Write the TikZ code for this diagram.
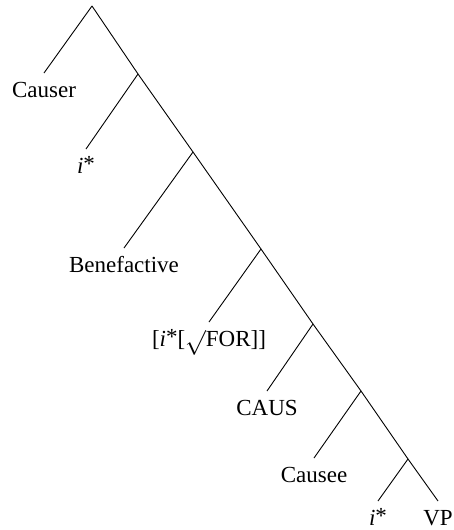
\documentclass[tikz,border=0pt]{standalone}
\usepackage{fontspec}
\setmainfont{Liberation Serif}
\usepackage{tikz}
\usetikzlibrary{positioning}
\tikzset{
  leaf/.style={
    anchor=north, inner sep=0pt,
    text height=24pt, text depth=5pt,
    font=\fontsize{23}{27}\selectfont
  },
  branch/.style={draw, line width=0.9pt},
}
\newcommand{\istar}{\textit{i}\raisebox{0.15ex}{*}}

\begin{document}
\begin{tikzpicture}[x=1pt, y=-1pt]
  \useasboundingbox (0,0) rectangle (454,530);

  % branching points along the spine
  \coordinate (r)  at (92,6);
  \coordinate (n1) at (138,74);
  \coordinate (n2) at (193,152);
  \coordinate (n3) at (261,249);
  \coordinate (n4) at (313,324);
  \coordinate (n5) at (361,391);
  \coordinate (n6) at (408,459);

  % leaves
  \node[leaf] (causer) at (44,73)   {Causer};
  \node[leaf] (i1)     at (86,149)  {\istar};
  \node[leaf] (bene)   at (124,248) {Benefactive};
  \node[leaf] (ifor)   at (209,322) {[\istar[\raisebox{-0.25ex}{$\surd$}FOR]]};
  \node[leaf] (caus)   at (267,391) {CAUS};
  \node[leaf] (causee) at (314,458) {Causee};
  \node[leaf] (i2)     at (378,501) {\istar};
  \node[leaf] (vp)     at (438,501) {VP};

  \draw[branch] (r) -- (causer.north);
  \draw[branch] (r) -- (n1);
  \draw[branch] (n1) -- (i1.north);
  \draw[branch] (n1) -- (n2);
  \draw[branch] (n2) -- (bene.north);
  \draw[branch] (n2) -- (n3);
  \draw[branch] (n3) -- (ifor.north);
  \draw[branch] (n3) -- (n4);
  \draw[branch] (n4) -- (caus.north);
  \draw[branch] (n4) -- (n5);
  \draw[branch] (n5) -- (causee.north);
  \draw[branch] (n5) -- (n6);
  \draw[branch] (n6) -- (i2.north);
  \draw[branch] (n6) -- (vp.north);
\end{tikzpicture}
\end{document}
